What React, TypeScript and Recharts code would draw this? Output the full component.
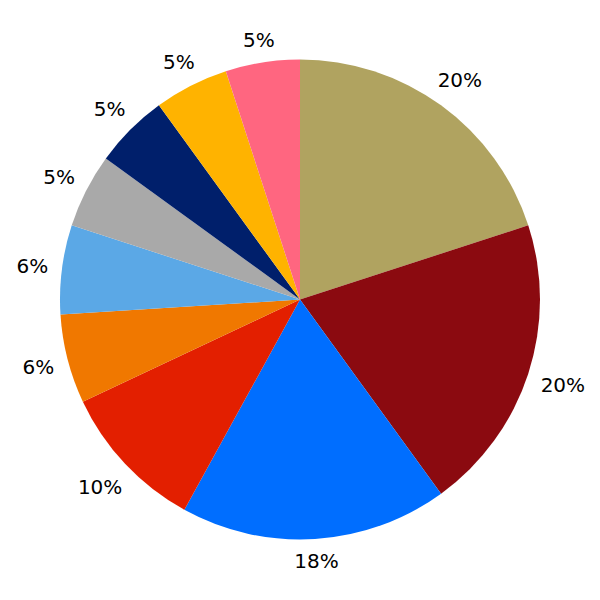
import { PieChart, Pie, Cell } from "recharts";

const shares = [20, 20, 18, 10, 6, 6, 5, 5, 5, 5];
const labels = ["20%", "20%", "18%", "10%", "6%", "6%", "5%", "5%", "5%", "5%"];
const colors = [
  "#B0A360",
  "#8B0A10",
  "#006EFF",
  "#E31F00",
  "#F07800",
  "#5BA8E6",
  "#A9A9A9",
  "#001F6B",
  "#FFB300",
  "#FF6680",
];

const data = shares.map((value, i) => ({ name: labels[i], value }));

const RADIAN = Math.PI / 180;
const FONT = 20;

// rough DejaVu Sans advance widths
const textWidth = (s: string) =>
  s.split("").reduce((w, ch) => w + (ch === "%" ? 0.95 : 0.636) * FONT, 0);

const renderLabel = (props: any) => {
  const { cx, cy, midAngle, index } = props;
  const text = labels[index];
  const dx = Math.cos(-midAngle * RADIAN);
  const dy = Math.sin(-midAngle * RADIAN);
  const halfW = textWidth(text) / 2;
  const halfH = 0.729 * FONT / 2;
  // keep the label box just clear of a ring around the pie
  const r = 253 + halfW * Math.abs(dx) + halfH * Math.abs(dy);
  const x = cx + r * dx;
  const y = cy + r * dy;
  return (
    <text
      x={x}
      y={y + halfH}
      fill="#000"
      textAnchor="middle"
      style={{ fontFamily: "DejaVu Sans", fontSize: FONT }}
    >
      {text}
    </text>
  );
};

export default function App() {
  return (
    <div style={{ position: "absolute", left: 0, top: 0, background: "#fff" }}>
      <PieChart
        width={600}
        height={600}
        margin={{ top: 0, right: 0, bottom: 0, left: 0 }}
      >
        <Pie
          data={data}
          dataKey="value"
          cx={300}
          cy={299.5}
          outerRadius={240}
          startAngle={90}
          endAngle={-270}
          stroke="none"
          label={renderLabel}
          labelLine={false}
          isAnimationActive={false}
        >
          {data.map((_, i) => (
            <Cell key={i} fill={colors[i]} />
          ))}
        </Pie>
      </PieChart>
    </div>
  );
}
